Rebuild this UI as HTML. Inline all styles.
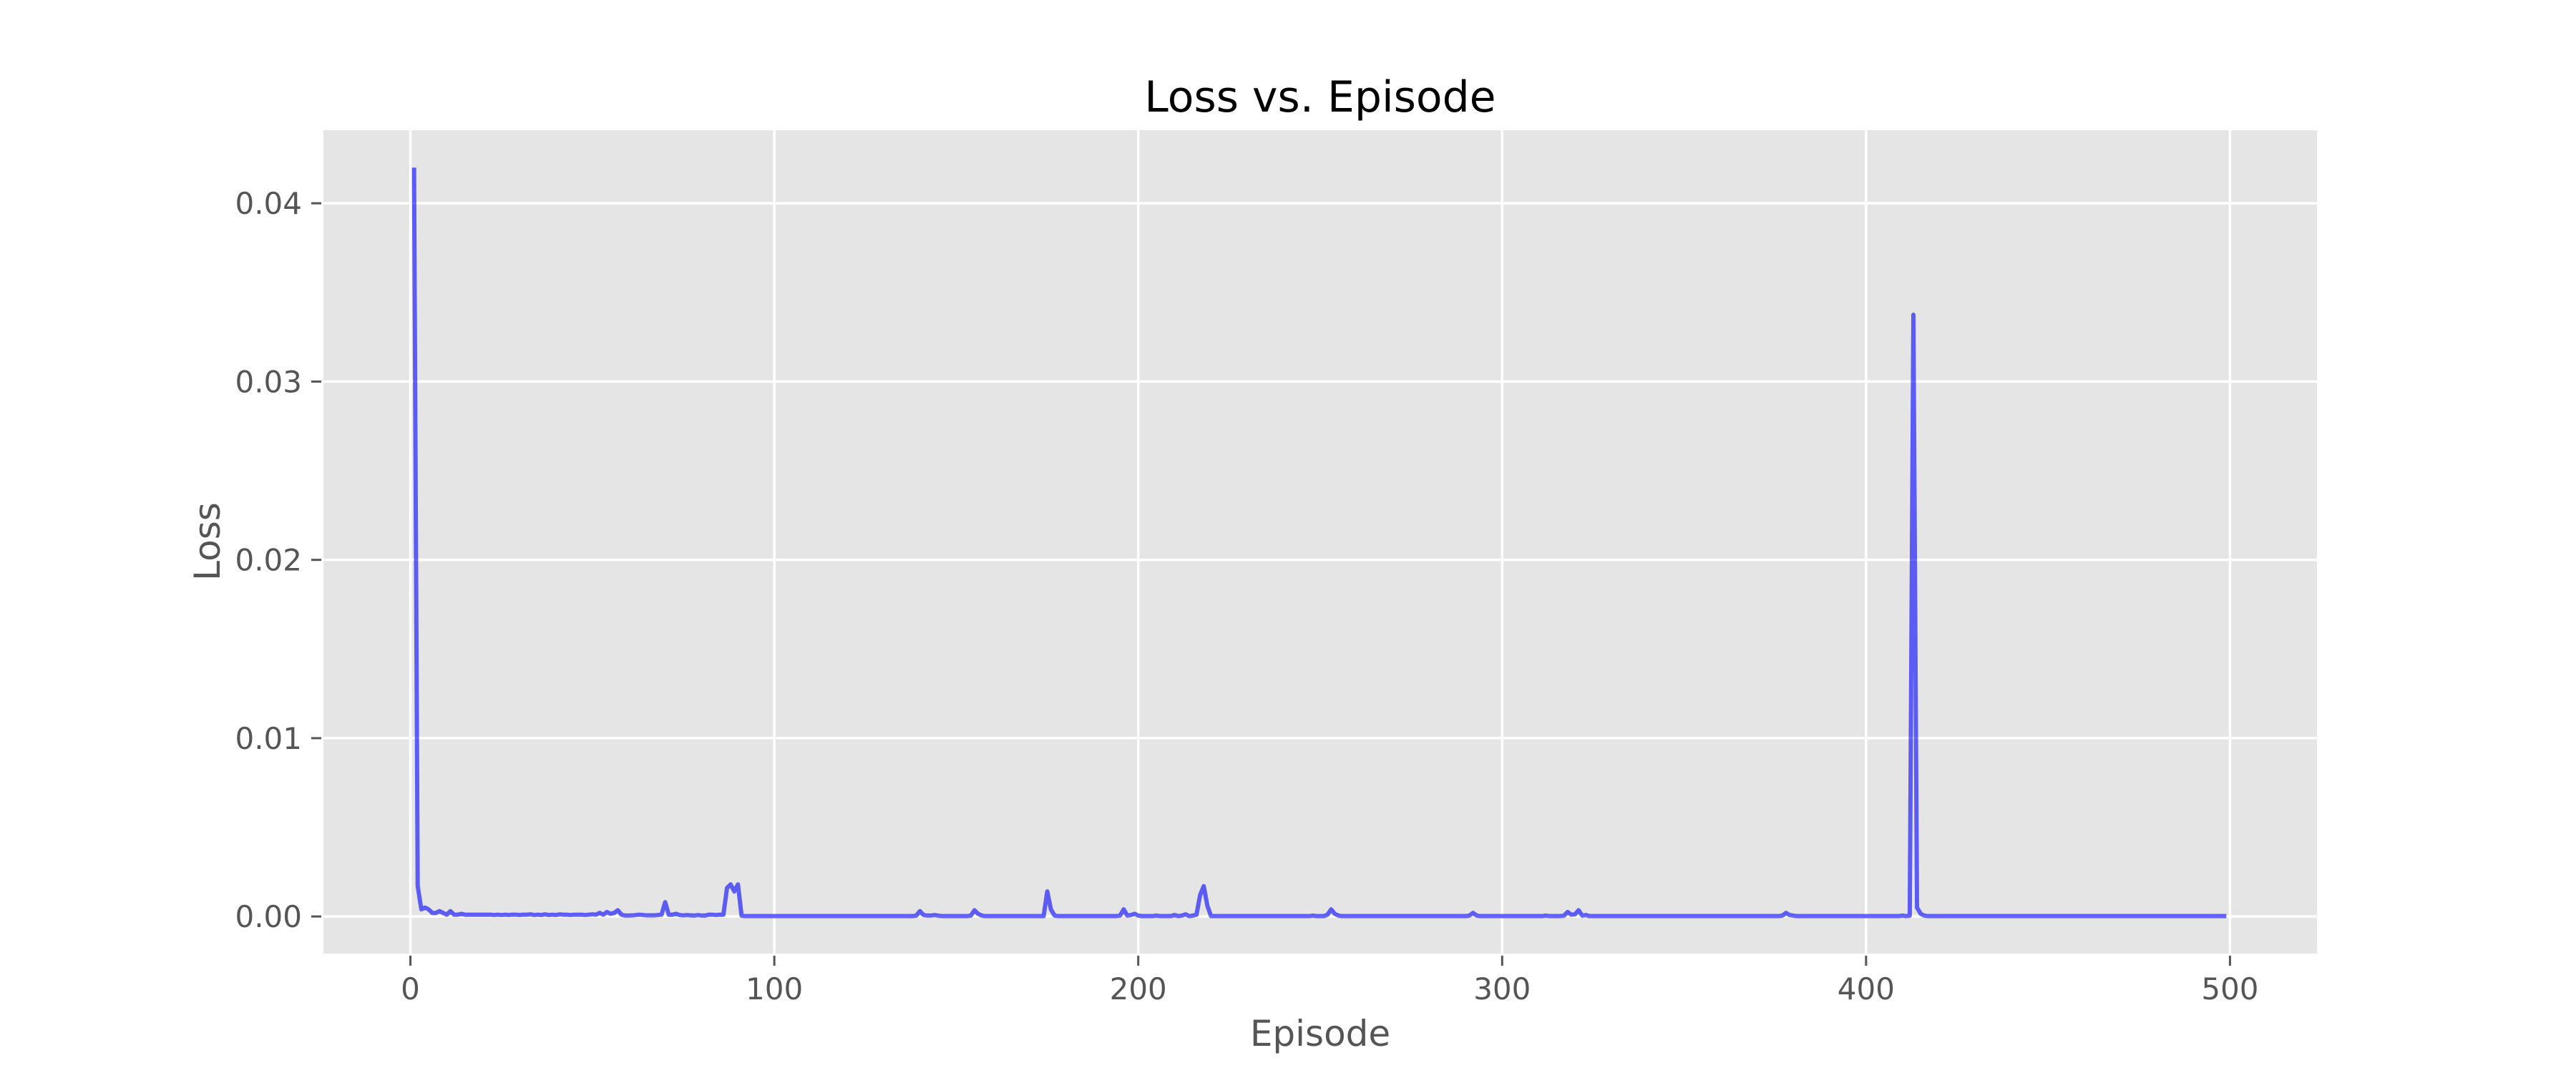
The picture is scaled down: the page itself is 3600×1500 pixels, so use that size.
<!DOCTYPE html>
<html>
<head>
<meta charset="utf-8">
<style>
html,body{margin:0;padding:0;background:#fff;}
svg{display:block;}
text{font-family:"DejaVu Sans","Liberation Sans",sans-serif;}
</style>
</head>
<body>
<svg id="chart" width="3600" height="1500" viewBox="0 0 3600 1500" xmlns="http://www.w3.org/2000/svg">
  <rect x="0" y="0" width="3600" height="1500" fill="#ffffff"/>
  <rect x="452" y="182" width="2786" height="1151" fill="#e5e5e5"/>
  <g id="grid"></g>
  <g id="ticks"></g>
  <g id="series"></g>
  <text x="1845" y="156" font-size="60" text-anchor="middle" fill="#000">Loss vs. Episode</text>
  <text x="1845" y="1462" font-size="50" text-anchor="middle" fill="#555">Episode</text>
  <text x="0" y="0" font-size="50" text-anchor="middle" fill="#555" transform="translate(307,757) rotate(-90)">Loss</text>
</svg>
<script>
const lossValues = [
0.042,0.0017,4e-4,5e-4,4e-4,2e-4,2e-4,3e-4,2e-4,1e-4,3e-4,1e-4,1e-4,1.5e-4,1e-4,1e-4,1e-4,1e-4,1e-4,1e-4,1e-4,1e-4,8e-5,1e-4,8e-5,
1e-4,8e-5,1e-4,1e-4,8e-5,1e-4,1e-4,1.2e-4,8e-5,1e-4,8e-5,1.2e-4,8e-5,1e-4,8e-5,1.2e-4,1e-4,1e-4,8e-5,1e-4,1e-4,1e-4,8e-5,1e-4,1.2e-4,
1e-4,2e-4,1e-4,2.5e-4,1.5e-4,2e-4,3.5e-4,1e-4,5e-5,5e-5,6e-5,8e-5,1e-4,8e-5,6e-5,6e-5,6e-5,8e-5,1e-4,8e-4,1e-4,1e-4,1.5e-4,8e-5,6e-5,
8e-5,6e-5,5e-5,8e-5,5e-5,5e-5,1e-4,1e-4,8e-5,1e-4,1e-4,1.6e-3,1.8e-3,1.4e-3,1.8e-3,5e-5,2e-5,2e-5,2e-5,2e-5,2e-5,2e-5,2e-5,2e-5,2e-5,
2e-5,2e-5,2e-5,2e-5,2e-5,2e-5,2e-5,2e-5,2e-5,2e-5,2e-5,2e-5,2e-5,2e-5,2e-5,2e-5,2e-5,2e-5,2e-5,2e-5,2e-5,2e-5,2e-5,2e-5,2e-5,
2e-5,2e-5,2e-5,2e-5,2e-5,2e-5,2e-5,2e-5,2e-5,2e-5,2e-5,2e-5,2e-5,5e-5,3e-4,8e-5,5e-5,5e-5,8e-5,5e-5,2e-5,2e-5,2e-5,2e-5,2e-5,
2e-5,2e-5,2e-5,5e-5,3.5e-4,1.5e-4,5e-5,2e-5,2e-5,2e-5,2e-5,2e-5,2e-5,2e-5,2e-5,2e-5,2e-5,2e-5,2e-5,2e-5,2e-5,2e-5,2e-5,2e-5,1.4e-3,
4e-4,5e-5,2e-5,2e-5,2e-5,2e-5,2e-5,2e-5,2e-5,2e-5,2e-5,2e-5,2e-5,2e-5,2e-5,2e-5,2e-5,2e-5,2e-5,5e-5,4e-4,5e-5,8e-5,1.5e-4,5e-5,
2e-5,2e-5,2e-5,2e-5,5e-5,2e-5,2e-5,2e-5,2e-5,8e-5,2e-5,5e-5,1.2e-4,2e-5,5e-5,1e-4,1.2e-3,1.7e-3,6e-4,2e-5,2e-5,2e-5,2e-5,2e-5,2e-5,
2e-5,2e-5,2e-5,2e-5,2e-5,2e-5,2e-5,2e-5,2e-5,2e-5,2e-5,2e-5,2e-5,2e-5,2e-5,2e-5,2e-5,2e-5,2e-5,2e-5,2e-5,2e-5,5e-5,2e-5,2e-5,
2e-5,1e-4,4e-4,1.5e-4,5e-5,2e-5,2e-5,2e-5,2e-5,2e-5,2e-5,2e-5,2e-5,2e-5,2e-5,2e-5,2e-5,2e-5,2e-5,2e-5,2e-5,2e-5,2e-5,2e-5,2e-5,
2e-5,2e-5,2e-5,2e-5,2e-5,2e-5,2e-5,2e-5,2e-5,2e-5,2e-5,2e-5,2e-5,2e-5,2e-5,5e-5,2e-4,5e-5,2e-5,2e-5,2e-5,2e-5,2e-5,2e-5,2e-5,
2e-5,2e-5,2e-5,2e-5,2e-5,2e-5,2e-5,2e-5,2e-5,2e-5,2e-5,5e-5,2e-5,2e-5,2e-5,2e-5,5e-5,2.5e-4,1e-4,1.2e-4,3.5e-4,5e-5,8e-5,2e-5,2e-5,
2e-5,2e-5,2e-5,2e-5,2e-5,2e-5,2e-5,2e-5,2e-5,2e-5,2e-5,2e-5,2e-5,2e-5,2e-5,2e-5,2e-5,2e-5,2e-5,2e-5,2e-5,2e-5,2e-5,2e-5,2e-5,
2e-5,2e-5,2e-5,2e-5,2e-5,2e-5,2e-5,2e-5,2e-5,2e-5,2e-5,2e-5,2e-5,2e-5,2e-5,2e-5,2e-5,2e-5,2e-5,2e-5,2e-5,2e-5,2e-5,2e-5,2e-5,
2e-5,5e-5,2e-4,8e-5,5e-5,2e-5,2e-5,2e-5,2e-5,2e-5,2e-5,2e-5,2e-5,2e-5,2e-5,2e-5,2e-5,2e-5,2e-5,2e-5,2e-5,2e-5,2e-5,2e-5,2e-5,
2e-5,2e-5,2e-5,2e-5,2e-5,2e-5,2e-5,2e-5,2e-5,5e-5,2e-5,5e-5,0.03375,5e-4,1.5e-4,5e-5,2e-5,2e-5,2e-5,2e-5,2e-5,2e-5,2e-5,2e-5,2e-5,
2e-5,2e-5,2e-5,2e-5,2e-5,2e-5,2e-5,2e-5,2e-5,2e-5,2e-5,2e-5,2e-5,2e-5,2e-5,2e-5,2e-5,2e-5,2e-5,2e-5,2e-5,2e-5,2e-5,2e-5,2e-5,
2e-5,2e-5,2e-5,2e-5,2e-5,2e-5,2e-5,2e-5,2e-5,2e-5,2e-5,2e-5,2e-5,2e-5,2e-5,2e-5,2e-5,2e-5,2e-5,2e-5,2e-5,2e-5,2e-5,2e-5,2e-5,
2e-5,2e-5,2e-5,2e-5,2e-5,2e-5,2e-5,2e-5,2e-5,2e-5,2e-5,2e-5,2e-5,2e-5,2e-5,2e-5,2e-5,2e-5,2e-5,2e-5,2e-5,2e-5,2e-5,2e-5
];
const xTicks = [0, 100, 200, 300, 400, 500];
const xTickLabels = ["0", "100", "200", "300", "400", "500"];
const yTicks = [0, 0.01, 0.02, 0.03, 0.04];
const yTickLabels = ["0.00", "0.01", "0.02", "0.03", "0.04"];

const NS = "http://www.w3.org/2000/svg";
const plotL = 452, plotR = 3238, plotT = 182, plotB = 1333;
const episodes = lossValues.map((v, i) => i + 1);
const xMin = episodes[0], xMax = episodes[episodes.length - 1];
const xPad = (xMax - xMin) * 0.05;
const x0 = xMin - xPad, x1 = xMax + xPad;
let vMin = Math.min(...lossValues), vMax = Math.max(...lossValues);
const yPad = (vMax - vMin) * 0.05;
const y0 = vMin - yPad, y1 = vMax + yPad;
function sx(v) { return plotL + (v - x0) / (x1 - x0) * (plotR - plotL); }
function sy(v) { return plotB - (v - y0) / (y1 - y0) * (plotB - plotT); }

const grid = document.getElementById('grid');
const ticks = document.getElementById('ticks');
function mk(tag, attrs, parent) {
  const el = document.createElementNS(NS, tag);
  for (const k in attrs) el.setAttribute(k, attrs[k]);
  parent.appendChild(el);
  return el;
}
xTicks.forEach((t, i) => {
  const x = sx(t);
  const g = mk('line', {x1: x, x2: x, y1: plotT, y2: plotB, stroke: '#fff', 'stroke-width': 3.5}, grid);
  
  
  const tk = mk('line', {x1: x, x2: x, y1: plotB + 3, y2: plotB + 17, stroke: '#555', 'stroke-width': 3}, ticks);
  
  
  const tx = mk('text', {x: x, y: plotB + 64, 'font-size': 42, 'text-anchor': 'middle', fill: '#555'}, ticks);
  tx.textContent = xTickLabels[i];
  
  
});
yTicks.forEach((t, i) => {
  const y = sy(t);
  const g = mk('line', {x1: plotL, x2: plotR, y1: y, y2: y, stroke: '#fff', 'stroke-width': 3.5}, grid);
  
  
  const tk = mk('line', {x1: plotL - 17, x2: plotL - 3, y1: y, y2: y, stroke: '#555', 'stroke-width': 3}, ticks);
  
  
  const tx = mk('text', {x: plotL - 30, y: y + 15, 'font-size': 42, 'text-anchor': 'end', fill: '#555'}, ticks);
  tx.textContent = yTickLabels[i];
  
  
});
const pts = lossValues.map((v, i) => sx(episodes[i]).toFixed(2) + ',' + sy(v).toFixed(2)).join(' ');
const line = mk('polyline', {points: pts, fill: 'none', stroke: '#0000ff', 'stroke-opacity': 0.6, 'stroke-width': 6, 'stroke-linejoin': 'round'}, document.getElementById('series'));


</script>
</body>
</html>
